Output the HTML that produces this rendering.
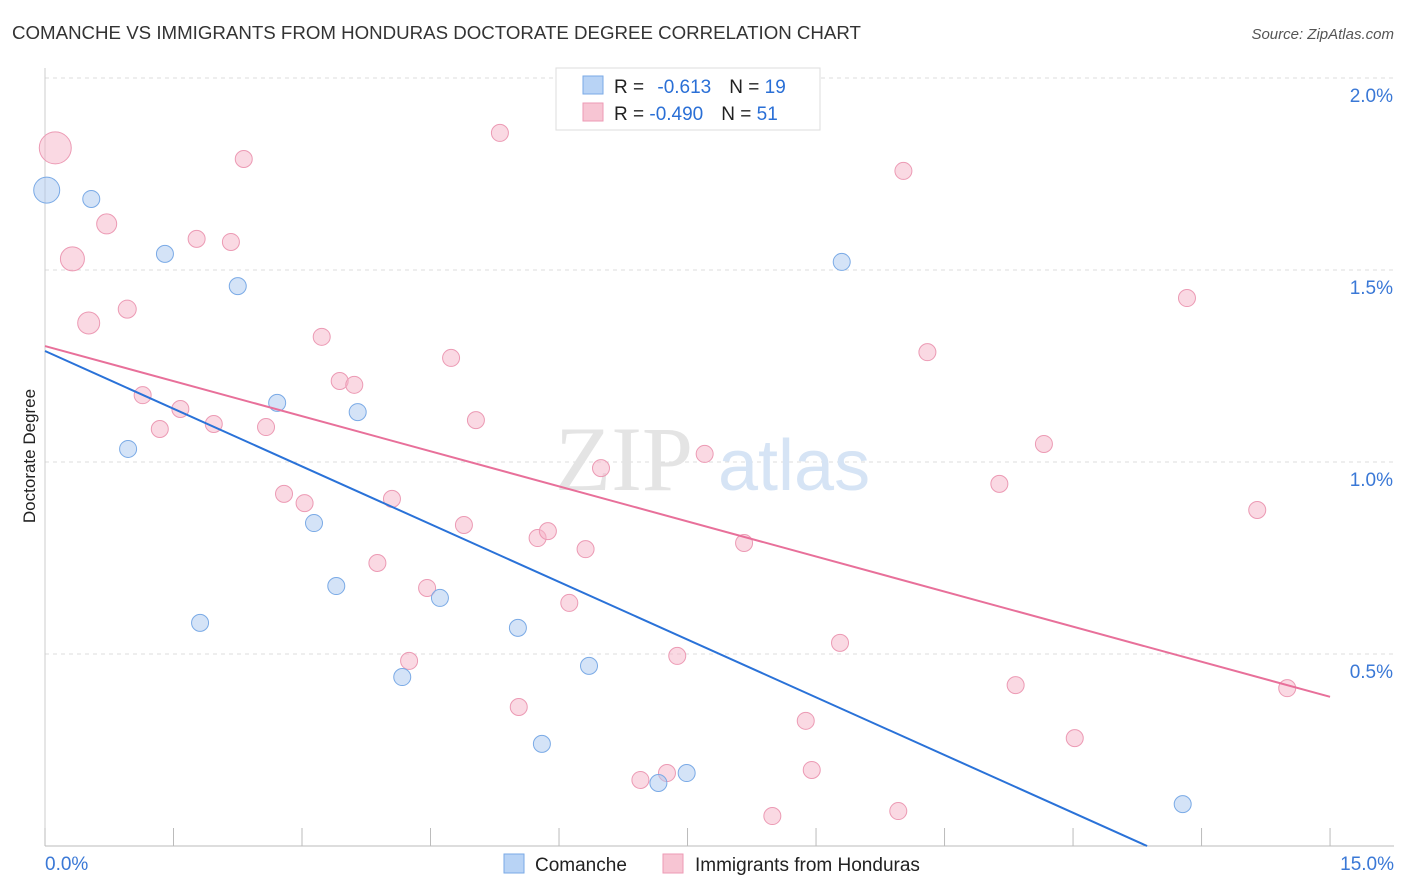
<!DOCTYPE html>
<html><head><meta charset="utf-8"><style>
body{margin:0;background:#fff;font-family:"Liberation Sans",sans-serif}
svg{display:block}
</style></head><body>
<svg id="c" width="1406" height="892" xmlns="http://www.w3.org/2000/svg">
<text x="12" y="39" font-size="18.7" fill="#333">COMANCHE VS IMMIGRANTS FROM HONDURAS DOCTORATE DEGREE CORRELATION CHART</text>
<text x="1394" y="39" font-size="15" fill="#555" font-style="italic" text-anchor="end">Source: ZipAtlas.com</text>
<text x="35" y="456" font-size="17" fill="#222" text-anchor="middle" transform="rotate(-90 35 456)">Doctorate Degree</text>
<g id="grid"></g>
<g><text x="555" y="490" font-size="92" fill="#e4e4e4" font-family="Liberation Serif,serif">ZIP</text><text x="718" y="490" font-size="72" fill="#d6e4f5">atlas</text></g>
<g id="pts"></g>
<g id="lines"></g>
<g>
<rect x="556" y="68" width="264" height="62" fill="#fff" stroke="#ddd"/>
<rect x="583" y="76" width="20" height="18" fill="#b8d3f5" stroke="#7aaae6"/>
<text x="614" y="93" font-size="19" fill="#222">R = <tspan fill="#2a6fd6" dx="8">-0.613</tspan><tspan dx="18" fill="#222">N = </tspan><tspan fill="#2a6fd6">19</tspan></text>
<rect x="583" y="103" width="20" height="18" fill="#f7c5d3" stroke="#ee9ab5"/>
<text x="614" y="120" font-size="19" fill="#222">R = <tspan fill="#2a6fd6">-0.490</tspan><tspan dx="18" fill="#222">N = </tspan><tspan fill="#2a6fd6">51</tspan></text>
</g>
<g>
<rect x="504" y="854" width="20" height="19" fill="#b8d3f5" stroke="#7aaae6"/>
<text x="535" y="871" font-size="19" fill="#222">Comanche</text>
<rect x="663" y="854" width="20" height="19" fill="#f7c5d3" stroke="#ee9ab5"/>
<text x="695" y="871" font-size="19" fill="#222">Immigrants from Honduras</text>
</g>
</svg>
<script>
const blueX=[0.02,0.54,1.40,2.25,0.97,2.71,3.65,3.14,3.40,1.81,4.61,4.17,5.52,6.35,5.80,7.49,7.16,9.30,13.28];
const blueY=[1.708,1.685,1.542,1.458,1.034,1.154,1.130,0.841,0.677,0.581,0.646,0.440,0.568,0.469,0.266,0.190,0.164,1.521,0.109];
const blueR=[13,8.5,8.5,8.5,8.5,8.5,8.5,8.5,8.5,8.5,8.5,8.5,8.5,8.5,8.5,8.5,8.5,8.5,8.5];
const pinkX=[0.12,0.32,0.51,0.72,0.96,1.14,1.34,1.58,1.77,1.97,2.17,2.32,2.58,2.79,3.03,3.23,3.44,3.61,4.05,3.88,4.46,4.25,4.74,5.03,4.89,5.31,5.75,5.87,5.53,6.12,6.31,6.49,6.95,7.26,7.38,7.70,8.16,8.88,8.95,9.28,8.49,9.96,10.02,10.30,11.14,11.33,11.66,12.02,13.33,14.15,14.50];
const pinkY=[1.818,1.529,1.362,1.620,1.398,1.174,1.086,1.138,1.581,1.099,1.573,1.789,1.091,0.917,0.893,1.326,1.211,1.201,0.904,0.737,0.672,0.482,1.271,1.109,0.836,1.857,0.802,0.820,0.362,0.633,0.773,0.984,0.172,0.190,0.495,1.021,0.789,0.326,0.198,0.529,0.078,0.091,1.758,1.286,0.943,0.419,1.047,0.281,1.427,0.875,0.411];
const pinkR=[16,12,11,10,9,8.5,8.5,8.5,8.5,8.5,8.5,8.5,8.5,8.5,8.5,8.5,8.5,8.5,8.5,8.5,8.5,8.5,8.5,8.5,8.5,8.5,8.5,8.5,8.5,8.5,8.5,8.5,8.5,8.5,8.5,8.5,8.5,8.5,8.5,8.5,8.5,8.5,8.5,8.5,8.5,8.5,8.5,8.5,8.5,8.5,8.5];
const blueTrend=[1.289,-0.1002];
const pinkTrend=[1.302,-0.0609];
const yTicks=[0.5,1.0,1.5,2.0];
const yTickLabels=["0.5%","1.0%","1.5%","2.0%"];
const xTicks=[0,1.5,3,4.5,6,7.5,9,10.5,12,13.5,15];
const xTickLabels=["0.0%","15.0%"];
const NS="http://www.w3.org/2000/svg";
const sx=v=>45+v*85.67, sy=v=>846-v*384;
function mk(t,a,p){const e=document.createElementNS(NS,t);for(const k in a)e.setAttribute(k,a[k]);p.appendChild(e);return e;}
const svg=document.getElementById('c'),grid=document.getElementById('grid'),pts=document.getElementById('pts'),lines=document.getElementById('lines');
yTicks.forEach((v,i)=>{
 const l=mk('line',{x1:45,x2:1394,y1:sy(v),y2:sy(v),stroke:'#ddd','stroke-dasharray':'4,4'},grid);
 
 
 const t=mk('text',{x:1393,y:sy(v)+24,'font-size':19,fill:'#3a78d6','text-anchor':'end'},grid);
 t.textContent=yTickLabels[i];
 
 
});
mk('line',{x1:45,x2:45,y1:68,y2:846,stroke:'#ccc'},grid);
const ax=mk('line',{x1:45,x2:1394,y1:846,y2:846,stroke:'#bbb'},grid);


xTicks.forEach(v=>{const k=mk('line',{x1:sx(v),x2:sx(v),y1:828,y2:846,stroke:'#bbb'},grid);
 
 });
let t0=mk('text',{x:45,y:870,'font-size':19,fill:'#3a78d6'},svg);t0.textContent=xTickLabels[0];


let t1=mk('text',{x:1394,y:870,'font-size':19,fill:'#3a78d6','text-anchor':'end'},svg);t1.textContent=xTickLabels[1];


pinkX.forEach((x,i)=>{const c=mk('circle',{cx:sx(x),cy:sy(pinkY[i]),r:pinkR[i],fill:'rgba(246,180,200,0.5)',stroke:'#ec9ab4','stroke-width':1},pts);
 
 });
blueX.forEach((x,i)=>{const c=mk('circle',{cx:sx(x),cy:sy(blueY[i]),r:blueR[i],fill:'rgba(170,200,240,0.5)',stroke:'#7aaae6','stroke-width':1},pts);
 
 });
function trend(tr,col,name){const x2=Math.min(15,-tr[0]/tr[1]);
 const l=mk('line',{x1:sx(0),y1:sy(tr[0]),x2:sx(x2),y2:sy(tr[0]+tr[1]*x2),stroke:col,'stroke-width':2},lines);
 
 }
trend(pinkTrend,'#e8709a','honduras-trend-line');
trend(blueTrend,'#2a72d8','comanche-trend-line');
</script>
</body></html>
